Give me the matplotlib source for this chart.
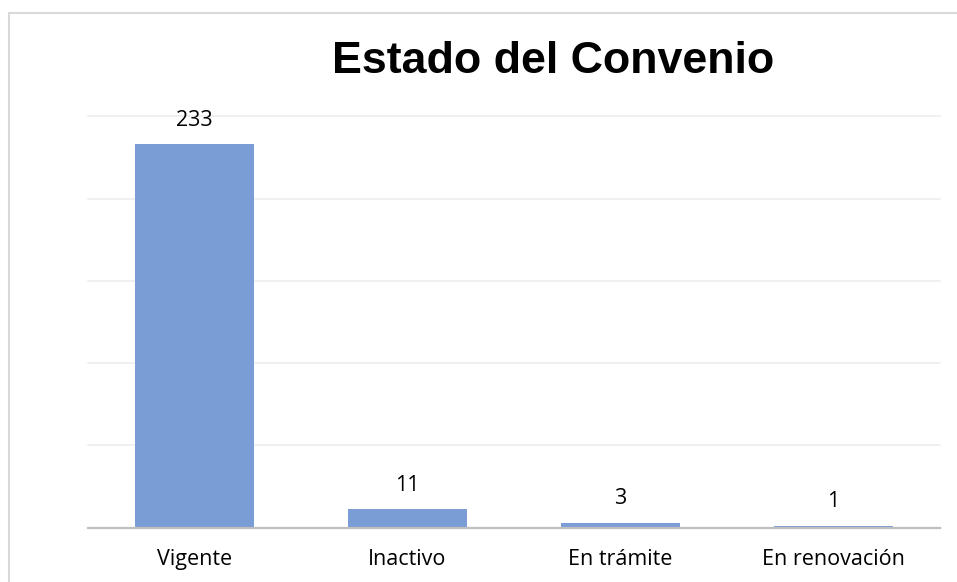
import matplotlib
matplotlib.use("Agg")
import matplotlib.pyplot as plt
from matplotlib.patches import Rectangle

categories = ["Vigente", "Inactivo", "En trámite", "En renovación"]
values = [233, 11, 3, 1]
title = "Estado del Convenio"

W, H = 957, 582
fig = plt.figure(figsize=(W / 100, H / 100), dpi=100)
fig.patch.set_facecolor("white")

# outer chart border (right/bottom run past the image edge)
fig.patches.append(Rectangle((9 / W, -0.05), 1.1, 1 - 13 / H + 0.05,
                             transform=fig.transFigure, fill=False,
                             edgecolor="#D9D9D9", linewidth=1.5))

left, right = 88 / W, 940 / W
bottom, top = 1 - 527.5 / H, 1 - 116.5 / H
ax = fig.add_axes([left, bottom, right - left, top - bottom])

x = range(len(categories))
bars = ax.bar(x, values, width=0.56, color="#7B9DD6", zorder=3)
ax.set_xlim(-0.5, len(categories) - 0.5)
ax.set_ylim(0, 250)
ax.set_yticks([0, 50, 100, 150, 200, 250])
ax.yaxis.grid(True, color="#EDEDED", linewidth=1.2, zorder=0)
for gl in ax.get_ygridlines():
    gl.set_clip_on(False)
ax.tick_params(axis="y", left=False, labelleft=False)
ax.tick_params(axis="x", bottom=False, pad=12)
ax.set_xticks(list(x))
ax.set_xticklabels(categories, fontfamily="Open Sans", fontsize=15.5, color="#000000")
for s in ["left", "right", "top"]:
    ax.spines[s].set_visible(False)
ax.spines["bottom"].set_color("#BFBFBF")
ax.spines["bottom"].set_linewidth(1.6)
ax.spines["bottom"].set_zorder(4)

for xi, v in zip(x, values):
    ax.annotate(str(v), (xi, v), xytext=(0, 17.5), textcoords="offset points",
                ha="center", va="center", fontfamily="Open Sans",
                fontsize=15.5, color="#000000")

fig.text(553 / W, 1 - 73 / H, title, ha="center", va="baseline",
         fontfamily="Liberation Sans", fontweight="bold", fontsize=32.2,
         color="#000000")

fig.savefig("out.png", dpi=100)
